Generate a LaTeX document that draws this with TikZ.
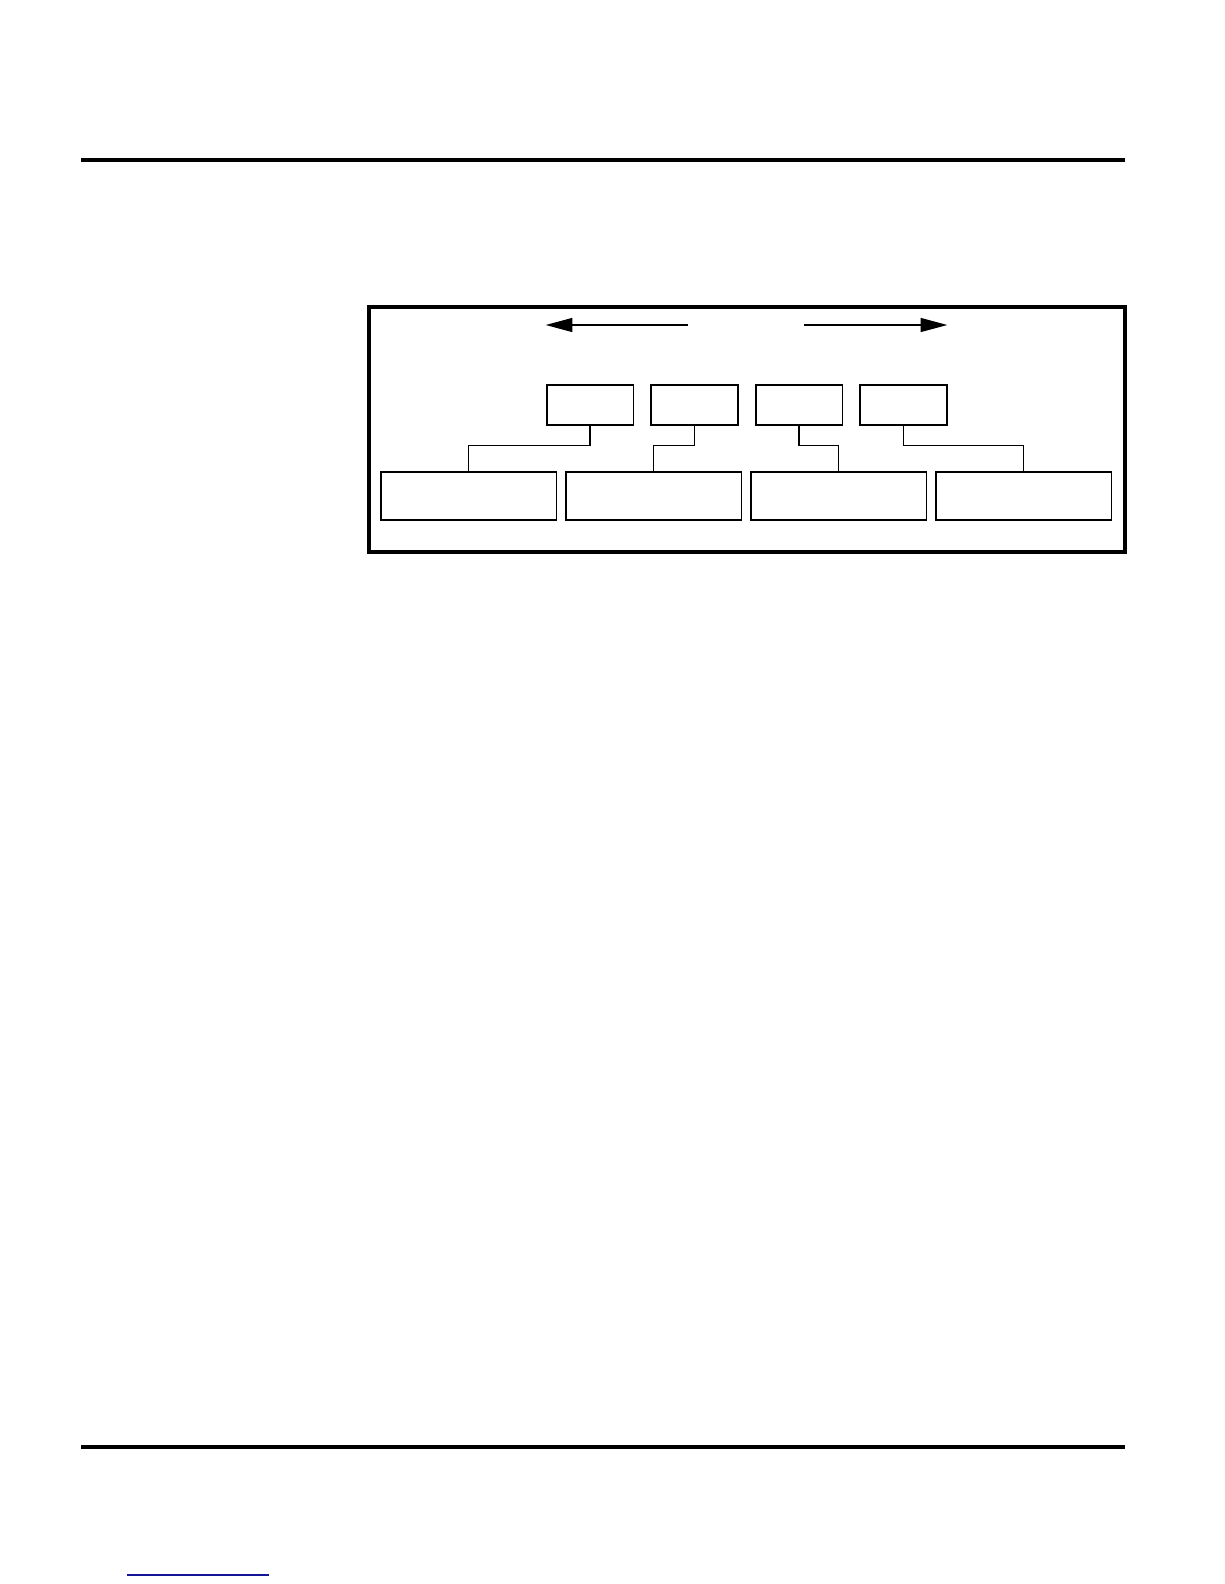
\documentclass[tikz,border=0pt]{standalone}
\usepackage{tikz}
\usetikzlibrary{arrows,arrows.meta,positioning}
\definecolor{linkblue}{RGB}{20,20,150}

\begin{document}
\begin{tikzpicture}[x=1pt,y=-1pt,
	topnode/.style={rectangle,draw,line width=1.6pt,inner sep=0pt,minimum width=86.6pt,minimum height=40pt},
	lownode/.style={rectangle,draw,line width=1.6pt,inner sep=0pt,minimum width=175.3pt,minimum height=48pt},
	pagerule/.style={line width=4.3pt},
	bigarrow/.style={-{Triangle[length=26.7pt,width=14pt]},line width=1.3pt}]
	
	\useasboundingbox (0,0) rectangle (1224,1584);
	
	\draw[pagerule] (81,159.8) -- (1125,159.8);
	\draw[pagerule] (81,1447) -- (1125,1447);
	\draw[line width=1.5pt,linkblue] (127,1575) -- (269,1575);
	\draw[line width=4pt] (369,307) rectangle (1124.5,552);
	
	\coordinate (la) at (687.7,325);
	\coordinate (lb) at (545.7,325);
	\coordinate (ra) at (804.3,325);
	\coordinate (rb) at (947.3,325);
	
	\node [topnode] (0) at (590, 405) {};
	\node [topnode] (1) at (694.5, 405) {};
	\node [topnode] (2) at (799, 405) {};
	\node [topnode] (3) at (903.5, 405) {};
	\node [lownode] (4) at (468.7, 496) {};
	\node [lownode] (5) at (653.7, 496) {};
	\node [lownode] (6) at (838.7, 496) {};
	\node [lownode] (7) at (1023.7, 496) {};
	
	\draw[bigarrow] (la) to (lb);
	\draw[bigarrow] (ra) to (rb);
	
	\draw[line width=1.3pt] (0.south) -- ++(0,20) -| (4.north);
	\draw[line width=1.3pt] (1.south) -- ++(0,20) -| (5.north);
	\draw[line width=1.3pt] (2.south) -- ++(0,20) -| (6.north);
	\draw[line width=1.3pt] (3.south) -- ++(0,20) -| (7.north);
\end{tikzpicture}
\end{document}
